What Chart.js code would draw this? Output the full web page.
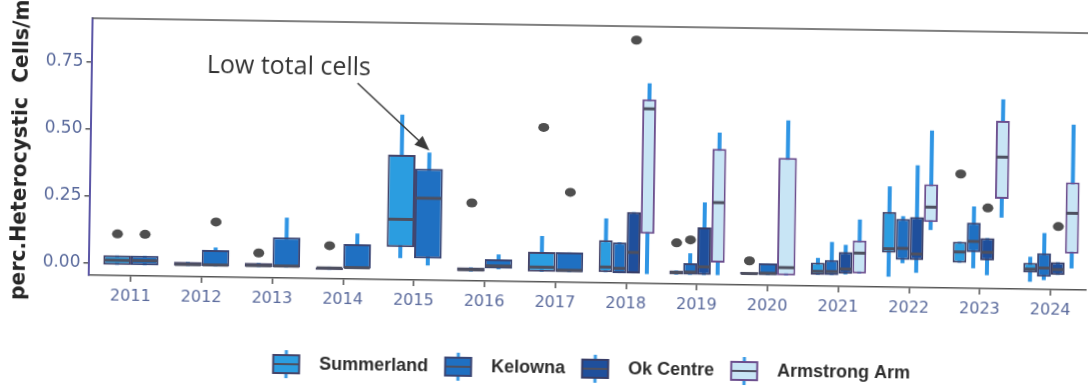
<!DOCTYPE html>
<html>
<head>
<meta charset="utf-8">
<script src="https://cdn.jsdelivr.net/npm/chart.js@4.4.1/dist/chart.umd.min.js"></script>
<style>
  html, body { margin: 0; padding: 0; background: #fff; overflow: hidden; }
  /* the source is a slightly tilted scan */
  #wrap { width: 1088px; height: 387px; transform: rotate(0.86deg); transform-origin: 50% 50%; }
</style>
</head>
<body>
<div id="wrap"><canvas id="chart" width="1088" height="387"></canvas></div>
<script>
// ── Data ───────────────────────────────────────────────────────────────────────
const years  = [2011, 2012, 2013, 2014, 2015, 2016, 2017, 2018, 2019, 2020, 2021, 2022, 2023, 2024];
const yTicks = [0, 0.25, 0.5, 0.75];
const seriesNames = ["Summerland", "Kelowna", "Ok Centre", "Armstrong Arm"];

// [lower whisker, q1, median, q3, upper whisker]; null = not sampled that year
const summerland = [
  [-0.005, -0.005, 0.012, 0.03, 0.03],
  [-0.005, -0.005, 0.0, 0.01, 0.01],
  [-0.005, -0.005, 0.0, 0.01, 0.01],
  [-0.012, -0.012, -0.005, 0.0, 0.0],
  [0.036, 0.077, 0.18, 0.42, 0.57],
  [-0.01, -0.01, -0.003, 0.005, 0.005],
  [-0.007, -0.007, 0.01, 0.067, 0.126],
  [-0.005, -0.005, 0.014, 0.114, 0.195],
  [-0.01, -0.01, -0.002, 0.005, 0.005],
  [-0.006, -0.006, -0.002, 0.003, 0.003],
  [-0.003, -0.003, 0.01, 0.042, 0.06],
  [-0.006, 0.083, 0.098, 0.235, 0.33],
  [0.05, 0.05, 0.09, 0.128, 0.128],
  [-0.017, 0.017, 0.03, 0.054, 0.076],
];
const kelowna = [
  [-0.005, -0.005, 0.012, 0.03, 0.03],
  [-0.005, -0.005, 0.0, 0.055, 0.065],
  [-0.005, -0.005, 0.0, 0.107, 0.18],
  [-0.005, -0.005, -0.002, 0.085, 0.125],
  [0.01, 0.036, 0.26, 0.37, 0.43],
  [0.0, 0.0, 0.012, 0.037, 0.055],
  [-0.007, -0.007, 0.0, 0.067, 0.067],
  [-0.008, -0.008, 0.01, 0.107, 0.107],
  [-0.01, -0.01, 0.0, 0.033, 0.07],
  [-0.007, -0.007, 0.0, 0.037, 0.037],
  [-0.003, -0.003, 0.01, 0.053, 0.12],
  [0.045, 0.057, 0.1, 0.21, 0.22],
  [0.03, 0.09, 0.13, 0.2, 0.26],
  [-0.01, 0.0, 0.035, 0.09, 0.165],
];
const okCentre = [
  null, null, null, null, null, null, null,
  [-0.008, -0.008, 0.07, 0.22, 0.22],
  [-0.01, -0.01, 0.02, 0.167, 0.26],
  null,
  [0.0, 0.0, 0.02, 0.083, 0.11],
  [0.01, 0.057, 0.08, 0.217, 0.41],
  [0.005, 0.06, 0.09, 0.143, 0.143],
  [0.01, 0.01, 0.03, 0.057, 0.057],
];
const armstrongArm = [
  null, null, null, null, null, null, null,
  [-0.01, 0.14, 0.605, 0.64, 0.70],
  [-0.01, 0.037, 0.26, 0.46, 0.52],
  [-0.007, -0.007, 0.022, 0.43, 0.57],
  [0.004, 0.004, 0.08, 0.127, 0.205],
  [0.17, 0.2, 0.255, 0.34, 0.54],
  [0.22, 0.29, 0.445, 0.58, 0.66],
  [0.035, 0.09, 0.24, 0.355, 0.57],
];

// outlying points, one list per year
const summerlandOut   = [[0.11], [], [0.047], [0.078], [], [0.245], [0.53], [], [0.108], [0.045], [], [], [0.38], []];
const kelownaOut      = [[0.11], [0.16], [], [], [], [], [0.29], [], [0.12], [], [], [], [], []];
const okCentreOut     = [[], [], [], [], [], [], [], [0.86], [], [], [], [], [0.255], [0.19]];
const armstrongArmOut = [[], [], [], [], [], [], [], [], [], [], [], [], [], []];

// ── Styling ────────────────────────────────────────────────────────────────────
const stats    = [summerland, kelowna, okCentre, armstrongArm];
const outliers = [summerlandOut, kelownaOut, okCentreOut, armstrongArmOut];
const fills    = ["#2b9de0", "#1f70c2", "#1f4f9c", "#c8e5f5"];
const edges    = ["#45456a", "#3b4674", "#383d66", "#6c4f8e"];
const WHISKER  = "#2f95e4";
const MEDIAN   = "#4e5060";
const TICKCOL  = "#5a6a9c";

function legendIcon(i) {
  const c = document.createElement("canvas");
  c.width = 30; c.height = 28;
  const g = c.getContext("2d");
  g.strokeStyle = WHISKER; g.lineWidth = 3;
  g.beginPath(); g.moveTo(15, 0); g.lineTo(15, 28); g.stroke();
  g.fillStyle = fills[i];
  g.fillRect(2, 5, 26, 18);
  g.strokeStyle = edges[i]; g.lineWidth = 2;
  g.strokeRect(2, 5, 26, 18);
  g.strokeStyle = MEDIAN; g.lineWidth = 2;
  g.beginPath(); g.moveTo(3, 14); g.lineTo(27, 14); g.stroke();
  return c;
}

// whiskers behind the boxes, medians / outliers / frame / notes on top
const boxExtras = {
  id: "boxExtras",
  beforeDatasetsDraw(chart) {
    const { ctx, scales: { y } } = chart;
    ctx.save();
    ctx.strokeStyle = WHISKER;
    ctx.lineWidth = 4;
    stats.forEach((s, i) => {
      chart.getDatasetMeta(i).data.forEach((bar, j) => {
        if (!s[j]) return;
        ctx.beginPath();
        ctx.moveTo(bar.x, y.getPixelForValue(s[j][0]));
        ctx.lineTo(bar.x, y.getPixelForValue(s[j][4]));
        ctx.stroke();
      });
    });
    ctx.restore();
  },
  afterDatasetsDraw(chart) {
    const { ctx, scales: { y }, chartArea } = chart;
    ctx.save();
    stats.forEach((s, i) => {
      chart.getDatasetMeta(i).data.forEach((bar, j) => {
        if (!s[j]) return;
        const half = bar.width / 2 - 1;
        ctx.strokeStyle = MEDIAN;
        ctx.lineWidth = 3;
        ctx.beginPath();
        ctx.moveTo(bar.x - half, y.getPixelForValue(s[j][2]));
        ctx.lineTo(bar.x + half, y.getPixelForValue(s[j][2]));
        ctx.stroke();
        ctx.fillStyle = "#4f4f4f";
        outliers[i][j].forEach(v => {
          ctx.beginPath();
          ctx.ellipse(bar.x, y.getPixelForValue(v), 5.5, 4.5, 0, 0, Math.PI * 2);
          ctx.fill();
        });
      });
    });
    // top frame line
    ctx.strokeStyle = "#555";
    ctx.lineWidth = 1.5;
    ctx.beginPath();
    ctx.moveTo(chartArea.left, chartArea.top);
    ctx.lineTo(chartArea.right, chartArea.top);
    ctx.stroke();
    ctx.restore();
  },
  afterDraw(chart) {
    const { ctx, scales: { y } } = chart;
    ctx.save();
    // y title (runs off the top like the source)
    ctx.translate(21, 308);
    ctx.rotate(-Math.PI / 2);
    ctx.scale(0.97, 1);
    ctx.fillStyle = "#262626";
    ctx.font = "bold 21px 'DejaVu Sans'";
    ctx.textAlign = "left";
    ctx.textBaseline = "middle";
    ctx.fillText("perc.Heterocystic  Cells/mL", 0, 0);
    ctx.restore();

    // note + arrow to the 2015 Kelowna box
    ctx.save();
    ctx.fillStyle = "#333";
    ctx.font = "25px 'Open Sans'";
    ctx.textAlign = "center";
    ctx.textBaseline = "middle";
    ctx.fillText("Low total cells", 287, 71);
    const target = chart.getDatasetMeta(1).data[4];
    const tx = target.x, ty = y.getPixelForValue(kelowna[4][4]) - 2;
    const sx = 356, sy = 86;
    const ang = Math.atan2(ty - sy, tx - sx);
    ctx.strokeStyle = "#3a3a3a";
    ctx.lineWidth = 1.6;
    ctx.beginPath(); ctx.moveTo(sx, sy); ctx.lineTo(tx - 12 * Math.cos(ang), ty - 12 * Math.sin(ang)); ctx.stroke();
    ctx.fillStyle = "#3a3a3a";
    ctx.beginPath();
    ctx.moveTo(tx, ty);
    ctx.lineTo(tx - 15 * Math.cos(ang) + 6 * Math.sin(ang), ty - 15 * Math.sin(ang) - 6 * Math.cos(ang));
    ctx.lineTo(tx - 15 * Math.cos(ang) - 6 * Math.sin(ang), ty - 15 * Math.sin(ang) + 6 * Math.cos(ang));
    ctx.closePath();
    ctx.fill();
    ctx.restore();
  },
};

// ── Chart ──────────────────────────────────────────────────────────────────────
new Chart(document.getElementById("chart"), {
  type: "bar",
  data: {
    datasets: seriesNames.map((name, i) => ({
      label: name,
      data: years.map((yr, j) => ({ x: yr, y: stats[i][j] ? [stats[i][j][1], stats[i][j][3]] : null })),
      backgroundColor: fills[i],
      borderColor: edges[i],
      borderWidth: 2,
      borderSkipped: false,
      skipNull: true,
      categoryPercentage: 0.78,
      barPercentage: 1,
    })),
  },
  options: {
    responsive: false,
    animation: false,
    layout: { padding: { top: 25, right: 0, bottom: 0, left: 0 } },
    plugins: {
      tooltip: { enabled: false },
      legend: {
        position: "bottom",
        fullSize: false,
        labels: {
          usePointStyle: true,
          pointStyleWidth: 48,
          padding: 6,
          color: "#2e2e2e",
          font: { family: "'Liberation Sans', Arial", size: 18, weight: "bold" },
          generateLabels: chart => chart.data.datasets.map((ds, i) => ({
            text: ds.label,
            pointStyle: legendIcon(i),
            datasetIndex: i,
            fontColor: "#2e2e2e",
            fillStyle: "transparent",
            strokeStyle: "transparent",
            lineWidth: 0,
            hidden: false,
          })),
        },
      },
    },
    scales: {
      x: {
        type: "linear",
        min: 2010.4,
        max: 2024.51,
        offset: false,
        afterFit: s => { s.height = 71; },
        afterBuildTicks: s => { s.ticks = years.map(v => ({ value: v })); },
        grid: { display: true, offset: false, drawOnChartArea: false, tickLength: 6, color: "#555", lineWidth: 1.5 },
        border: { display: true, color: "#555", width: 1.5 },
        ticks: {
          color: TICKCOL,
          padding: 5,
          autoSkip: false,
          maxRotation: 0,
          font: { family: "'DejaVu Sans'", size: 16 },
          callback: v => String(v),
        },
      },
      y: {
        min: -0.045,
        max: 0.911,
        afterFit: s => { s.width = 89.5; },
        afterBuildTicks: s => { s.ticks = yTicks.map(v => ({ value: v })); },
        grid: { display: true, drawOnChartArea: false, tickLength: 5, color: "#555", lineWidth: 1.5 },
        border: { display: true, color: "#5b56a6", width: 2 },
        ticks: {
          color: TICKCOL,
          padding: 3,
          font: { family: "'DejaVu Sans'", size: 17 },
          callback: v => v.toFixed(2),
        },
      },
    },
  },
  plugins: [boxExtras],
});
</script>
</body>
</html>
